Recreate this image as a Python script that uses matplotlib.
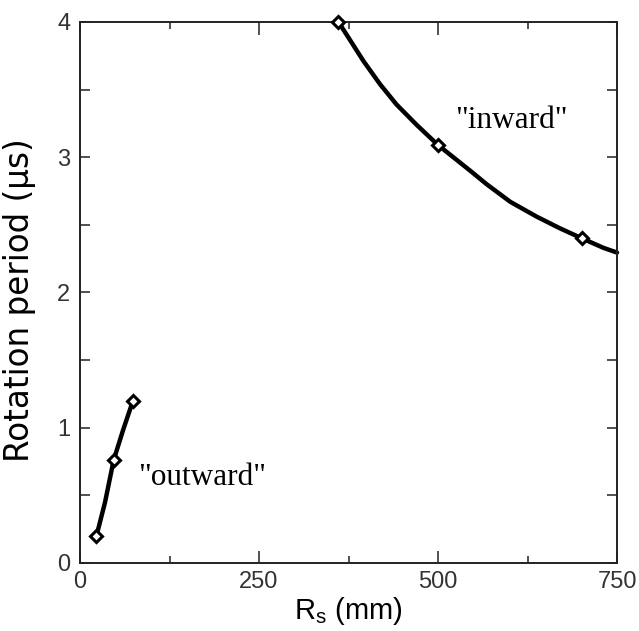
import matplotlib
matplotlib.use("Agg")
import matplotlib.pyplot as plt
from matplotlib.ticker import MultipleLocator

out_x = [23, 47, 74]
out_y = [0.20, 0.76, 1.20]
in_x = [361, 500, 701]
in_y = [4.00, 3.09, 2.40]
# drawn curves
out_curve_x = [23, 35, 47, 60, 74]
out_curve_y = [0.20, 0.45, 0.76, 0.98, 1.20]
in_curve_x = [361, 396, 419, 442, 470, 500, 545, 568, 601, 638, 670, 701, 731, 750]
in_curve_y = [4.00, 3.71, 3.54, 3.39, 3.24, 3.09, 2.90, 2.80, 2.67, 2.56, 2.475, 2.40, 2.33, 2.295]

xticks = [0, 250, 500, 750]
yticks = [0, 1, 2, 3, 4]

fig = plt.figure(figsize=(6.39, 6.31), dpi=100)
ax = fig.add_axes([0.1252, 0.1078, 0.8404, 0.8574])

line_kw = dict(color="black", lw=3.2, solid_capstyle="round", solid_joinstyle="round", zorder=2, clip_on=False)
ax.plot(out_curve_x, out_curve_y, **line_kw)
ax.plot(in_curve_x, in_curve_y, **line_kw)
mk_kw = dict(ls="none", marker="D", ms=6, mfc="white", mec="black", mew=2.2, zorder=3, clip_on=False)
ax.plot(out_x, out_y, **mk_kw)
ax.plot(in_x, in_y, **mk_kw)

ax.text(524, 3.275, '"inward"', family="Liberation Serif", fontsize=22.5, va="center", ha="left")
ax.text(81, 0.632, '"outward"', family="Liberation Serif", fontsize=22.5, va="center", ha="left")

ax.set_xlim(0, 750)
ax.set_ylim(0, 4)
ax.set_xticks(xticks)
ax.set_yticks(yticks)
ax.xaxis.set_minor_locator(MultipleLocator(125))
ax.yaxis.set_minor_locator(MultipleLocator(0.5))
ax.tick_params(which="both", direction="in", top=True, right=True, width=1.1, color="#222222")
ax.tick_params(axis="x", which="major", length=9, pad=6)
ax.tick_params(axis="x", which="minor", length=5)
ax.tick_params(axis="y", which="both", length=7, pad=7)
for lab in ax.get_xticklabels() + ax.get_yticklabels():
    lab.set_family("Liberation Sans")
    lab.set_fontsize(17)
    lab.set_color("#333333")
for s in ax.spines.values():
    s.set_linewidth(1.4)
    s.set_color("#222222")

ax.set_xlabel(r"R$_{\mathregular{s}}$ (mm)", family="Liberation Sans", fontsize=21, labelpad=1)
ax.set_ylabel("Rotation period (μs)", family="DejaVu Sans", fontsize=23.5)
ax.yaxis.set_label_coords(-0.082, 0.486)

fig.savefig("out.png", dpi=100)
